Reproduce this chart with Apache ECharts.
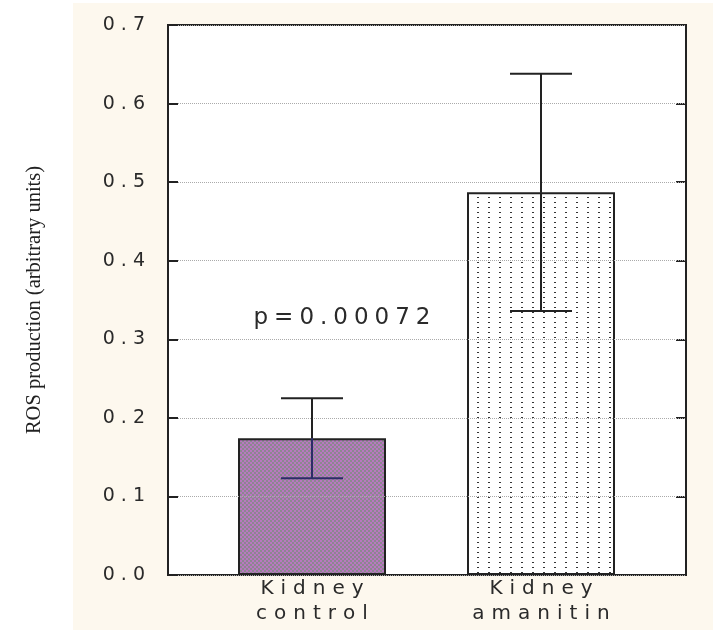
<!DOCTYPE html>
<html>
<head>
<meta charset="utf-8">
<script src="https://cdn.jsdelivr.net/npm/echarts@6/dist/echarts.min.js"></script>
<style>
  html, body { margin: 0; padding: 0; background: #fff; }
  #chart { width: 713px; height: 630px; }
</style>
</head>
<body>
<div id="chart"></div>
<script>
// ---- data ----
const categories = ['Kidney\ncontrol', 'Kidney\namanitin'];
const means = [0.174, 0.487];
const errors = [0.051, 0.151];
const yMin = 0, yMax = 0.7, yStep = 0.1;
const yAxisTitle = 'ROS production (arbitrary units)';
const pValueText = 'p=0.00072';

// ---- helpers ----
function spaced(str, style) {
  return String(str).split('\n').map(function (line) {
    return line.split('').map(function (ch) { return '{' + style + '|' + ch + '}'; }).join('');
  }).join('\n');
}
function makePattern(w, h, draw) {
  const c = document.createElement('canvas');
  c.width = w; c.height = h;
  draw(c.getContext('2d'));
  return { image: c, repeat: 'repeat' };
}
const purplePattern = makePattern(4, 4, function (g) {
  g.fillStyle = '#8c8690'; g.fillRect(0, 0, 4, 4);
  g.fillStyle = '#b878c0'; g.fillRect(0, 0, 2, 2); g.fillRect(2, 2, 2, 2);
});
const dotPattern = makePattern(11, 5, function (g) {
  g.fillStyle = '#ffffff'; g.fillRect(0, 0, 11, 5);
  g.fillStyle = '#333333'; g.fillRect(4, 2, 2, 1);
});
const fills = [purplePattern, dotPattern];
const innerWhiskerColors = ['#2c2c68', '#222222'];

const FONT = 'DejaVu Sans';
const TXT = '#2a2a2a';

const chart = echarts.init(document.getElementById('chart'), null, { renderer: 'canvas' });
chart.setOption({
  backgroundColor: '#fdf8ee',
  animation: false,
  graphic: [
    { type: 'rect', z: -10, shape: { x: 0, y: 0, width: 73, height: 630 }, style: { fill: '#ffffff' } },
    { type: 'rect', z: -10, shape: { x: 0, y: 0, width: 713, height: 3 }, style: { fill: '#ffffff' } },
    {
      type: 'text', z: 20, x: 342, y: 318,
      style: {
        text: spaced(pValueText, 'p'),
        align: 'center', verticalAlign: 'middle',
        rich: { p: { fontSize: 23, fontFamily: FONT, fill: TXT, color: TXT, padding: [0, 3] } }
      }
    }
  ],
  grid: [
    { left: 168, right: 27, top: 25, bottom: 55, show: true, backgroundColor: '#ffffff', borderColor: '#222', borderWidth: 2 },
    { left: 197.5, right: 57.5, top: 25, bottom: 55 }
  ],
  xAxis: [
    { gridIndex: 0, type: 'value', min: 0, max: 1, show: false },
    {
      gridIndex: 1, type: 'category', data: categories,
      axisLine: { show: false }, axisTick: { show: false }, splitLine: { show: false },
      axisLabel: {
        margin: 1, interval: 0,
        formatter: function (v) { return spaced(v, 'c'); },
        rich: { c: { fontSize: 20, fontFamily: FONT, color: TXT, padding: [0, 3.5], lineHeight: 25 } }
      }
    }
  ],
  yAxis: [
    {
      gridIndex: 0, type: 'value', position: 'left', min: yMin, max: yMax, interval: yStep, z: 5,
      name: yAxisTitle, nameLocation: 'middle', nameGap: 123,
      nameTextStyle: { fontFamily: 'Liberation Serif', fontSize: 20.5, color: '#222' },
      axisLine: { show: true, lineStyle: { color: '#222', width: 2 } },
      axisTick: { show: true, inside: true, length: 10, lineStyle: { color: '#222', width: 2 } },
      axisLabel: {
        margin: 20,
        formatter: function (v) { return spaced(v.toFixed(1), 'y'); },
        rich: { y: { fontSize: 19, fontFamily: FONT, color: TXT, padding: [0, 3] } }
      },
      splitLine: { show: true, lineStyle: { color: '#aaa', type: 'dotted', width: 1 } }
    },
    {
      gridIndex: 0, type: 'value', position: 'right', min: yMin, max: yMax, interval: yStep,
      axisLine: { show: true, lineStyle: { color: '#222', width: 2 } },
      axisTick: { show: true, inside: true, length: 10, lineStyle: { color: '#222', width: 2 } },
      axisLabel: { show: false },
      splitLine: { show: false }
    },
    { gridIndex: 1, type: 'value', min: yMin, max: yMax, interval: yStep, show: false }
  ],
  series: [
    {
      type: 'bar', xAxisIndex: 1, yAxisIndex: 2, barWidth: 148,
      data: means.map(function (m, i) {
        return { value: m, itemStyle: { color: fills[i], borderColor: '#222', borderWidth: 2 } };
      })
    },
    {
      type: 'custom', xAxisIndex: 1, yAxisIndex: 2, z: 10,
      data: means.map(function (m, i) { return [i, m, errors[i]]; }),
      renderItem: function (params, api) {
        const x = api.value(0), m = api.value(1), e = api.value(2);
        const top = api.coord([x, m + e]);
        const mid = api.coord([x, m]);
        const bot = api.coord([x, m - e]);
        const hw = 31;
        const st = { stroke: '#222', lineWidth: 2 };
        const stIn = { stroke: innerWhiskerColors[params.dataIndex], lineWidth: 2 };
        return {
          type: 'group',
          children: [
            { type: 'line', shape: { x1: top[0], y1: top[1], x2: mid[0], y2: mid[1] }, style: st },
            { type: 'line', shape: { x1: mid[0], y1: mid[1], x2: bot[0], y2: bot[1] }, style: stIn },
            { type: 'line', shape: { x1: top[0] - hw, y1: top[1], x2: top[0] + hw, y2: top[1] }, style: st },
            { type: 'line', shape: { x1: bot[0] - hw, y1: bot[1], x2: bot[0] + hw, y2: bot[1] }, style: stIn }
          ]
        };
      }
    }
  ]
});
</script>
</body>
</html>
